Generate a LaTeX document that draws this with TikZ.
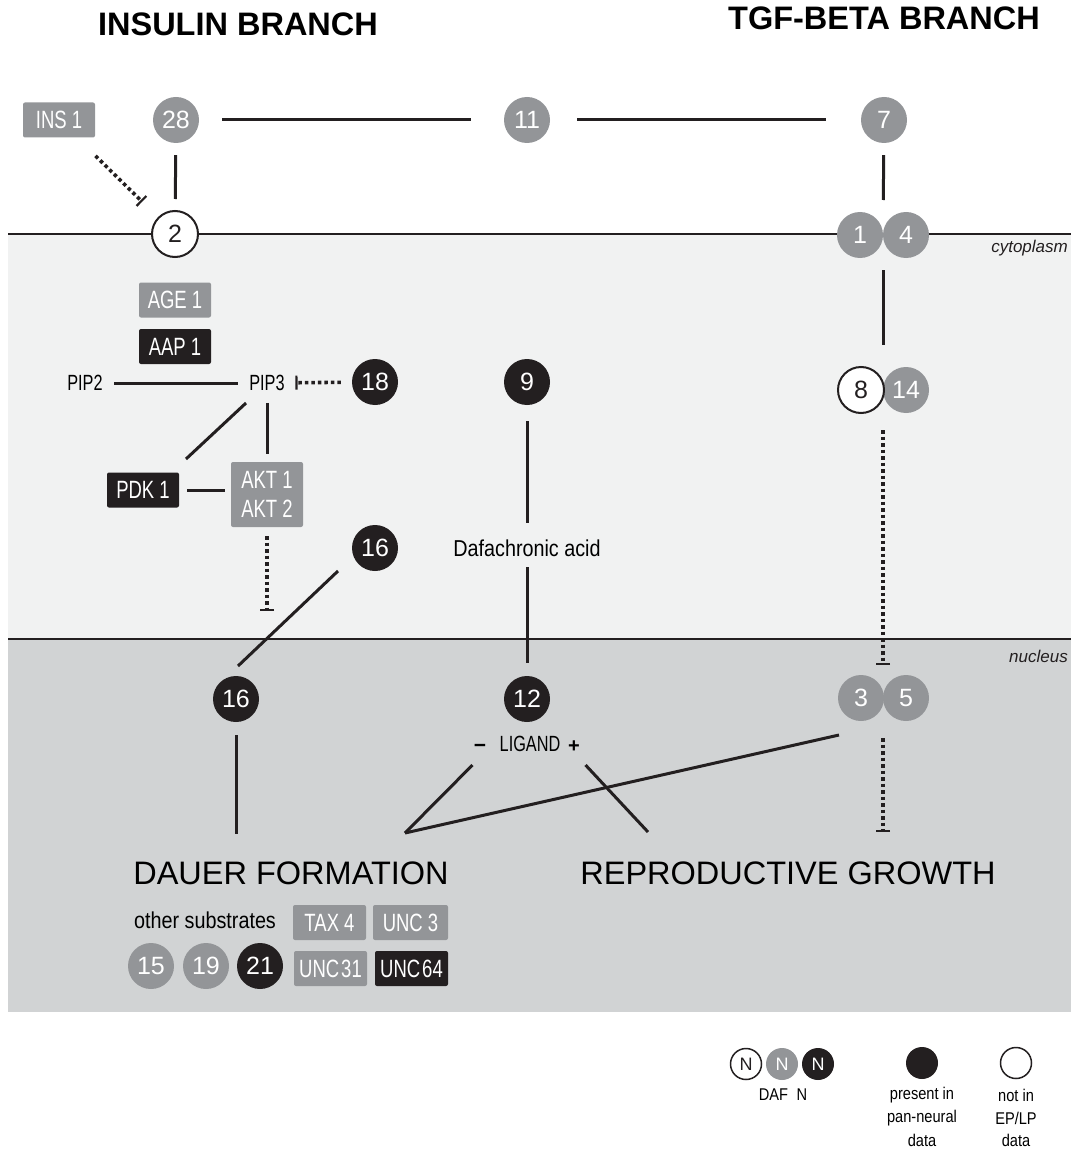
\documentclass[tikz,border=0pt]{standalone}
\usepackage{fontspec}
\setmainfont{Liberation Sans}
\newfontfamily\cnd[FakeStretch=0.74]{Liberation Sans}
\newfontfamily\cndl[FakeStretch=0.86]{Liberation Sans}
\usetikzlibrary{arrows.meta,calc}
\definecolor{dgray}{HTML}{939598}
\definecolor{dblack}{HTML}{231F20}
\definecolor{cyto}{HTML}{F1F2F2}
\definecolor{nucl}{HTML}{D1D3D4}
\begin{document}
\begin{tikzpicture}[x=1pt,y=-1pt,
  num/.style={circle,minimum size=46pt,inner sep=0pt,font=\fontsize{25}{25}\selectfont},
  gnum/.style={num,fill=dgray,text=white},
  bnum/.style={num,fill=dblack,text=white},
  wnum/.style={num,fill=white,draw=dblack,line width=2pt,text=dblack},
  gbox/.style={rectangle,rounded corners=2pt,fill=dgray,text=white,minimum width=72pt,minimum height=35pt,inner sep=0pt,font=\cnd\fontsize{25}{29}\selectfont},
  bbox/.style={gbox,fill=dblack},
  capl/.style={inner sep=0pt,font=\cnd\fontsize{22}{26}\selectfont,text=black},
  lowl/.style={inner sep=0pt,font=\cndl\fontsize{23}{26}\selectfont,text=black},
  lgd/.style={inner sep=0pt,font=\cndl\fontsize{17}{20}\selectfont,text=black},
  big/.style={inner sep=0pt,font=\fontsize{32.5}{34}\selectfont,text=black},
  conn/.style={line width=3pt,draw=dblack},
  dotc/.style={line width=3.6pt,draw=dblack,dash pattern=on 3.5pt off 3pt},
  inh/.style={dotc,-{Bar[width=14pt,line width=2.2pt]}},
]
\useasboundingbox (0,0) rectangle (1071,1150);
% compartments
\fill[cyto] (8,234) rectangle (1071,639);
\fill[nucl] (8,639) rectangle (1071,1012);
\draw[line width=2.2pt,dblack] (8,234) -- (1071,234);
\draw[line width=2.2pt,dblack] (8,639) -- (1071,639);
\node[anchor=east,inner sep=0pt,font=\itshape\fontsize{17}{17}\selectfont,text=dblack] (lcyto) at (1068,248) {cytoplasm};
\node[anchor=east,inner sep=0pt,font=\itshape\fontsize{17}{17}\selectfont,text=dblack] (lnuc) at (1068,656) {nucleus};
% titles
\node[big,font=\bfseries\fontsize{32.5}{34}\selectfont] (tins) at (238,24) {INSULIN BRANCH};
\node[big,font=\bfseries\fontsize{32.5}{34}\selectfont] (ttgf) at (884,18) {TGF-BETA BRANCH};
% top row
\node[gbox] (ins1) at (59,120) {INS 1};
\node[gnum] (n28) at (176,120) {28};
\node[gnum] (n11) at (527,120) {11};
\node[gnum] (n7) at (884,120) {7};
\node[wnum] (n2) at (175,234) {2};
\node[gnum] (n1) at (860,235) {1};
\node[gnum] (n4) at (906,235) {4};
\coordinate (c14) at (883,235);
% insulin cytoplasm
\node[gbox] (age1) at (175,300) {AGE 1};
\node[bbox] (aap1) at (175,346.5) {AAP 1};
\node[capl] (pip2) at (85,383) {PIP2};
\node[capl] (pip3) at (267,383) {PIP3};
\node[bnum] (n18) at (375,382) {18};
\node[bbox] (pdk1) at (143,490) {PDK 1};
\node[gbox,minimum height=65pt,align=center] (akt) at (267,494.5) {AKT 1\\AKT 2};
\coordinate (aktend) at (267,611);
\node[bnum] (n16a) at (375,548) {16};
% middle
\node[bnum] (n9) at (527,382) {9};
\node[lowl] (dafa) at (527,548) {Dafachronic acid};
% tgf cytoplasm
\node[gnum] (n14) at (906,390) {14};
\node[wnum] (n8) at (861,390) {8};
\coordinate (c814) at (883,390);
% nucleus
\node[bnum] (n16b) at (236,699) {16};
\node[bnum] (n12) at (527,699) {12};
\node[gnum] (n3) at (861,698) {3};
\node[gnum] (n5) at (906,698) {5};
\coordinate (c35) at (883,698);
\coordinate (rend) at (883,832);
\node[capl] (ligand) at (530,744) {LIGAND};
\node[anchor=base,inner sep=0pt,font=\bfseries\fontsize{21}{24}\selectfont] (minus) at (480,752) {\char"2212};
\node[anchor=base,inner sep=0pt,font=\bfseries\fontsize{20}{24}\selectfont] (plus) at (574,752) {+};
\coordinate (dj) at (405,833);
\coordinate (rj) at (648,832);
\coordinate (din) at (236,834);
\node[big] (dauer) at (291,873) {DAUER FORMATION};
\node[big] (repro) at (788,873) {REPRODUCTIVE GROWTH};
\node[lowl] (other) at (205,920) {other substrates};
\node[gbox,minimum width=73pt] (tax4) at (329.5,922.5) {TAX 4};
\node[gbox,minimum width=75pt] (unc3) at (410.5,922.5) {UNC 3};
\node[gbox,minimum width=73pt] (unc31) at (330.5,968.5) {UNC\kern2pt 31};
\node[bbox,minimum width=73pt] (unc64) at (411.5,968.5) {UNC\kern2pt 64};
\node[gnum] (n15) at (151,966) {15};
\node[gnum] (n19) at (206,966) {19};
\node[bnum] (n21) at (260,966) {21};
% connectors
\draw[conn,shorten <=23pt,shorten >=33pt] (n28) -- (n11);
\draw[conn,shorten <=27pt,shorten >=35pt] (n11) -- (n7);
\draw[conn,shorten <=12pt,shorten >=11pt] (n28) -- (n2);
\draw[inh,shorten <=26pt,shorten >=22pt] (ins1) -- (n2);
\draw[conn,shorten <=12pt,shorten >=35pt] (n7) -- (c14);
\draw[conn,shorten <=35pt,shorten >=45pt] (c14) -- (c814);
\draw[inh,shorten <=40pt,shorten >=33pt] (c814) -- (c35);
\draw[inh,shorten <=40pt] (c35) -- (rend);
\draw[conn,shorten <=11.5pt,shorten >=11.5pt] (pip2) -- (pip3);
\draw[inh,shorten <=11pt,shorten >=10.5pt] (n18) -- (pip3);
\draw[conn] ($(pip3)+(-21,20)$) -- ($(pdk1)+(43,-31)$);
\draw[conn,shorten <=12pt,shorten >=8pt] (pip3) -- (akt);
\draw[conn] ($(pdk1.east)+(8,0)$) -- ($(akt.west |- pdk1.east)+(-6,0)$);
\draw[inh,shorten <=9pt] (akt) -- (aktend);
\draw[conn] ($(n16a)+(-37,23)$) -- ($(n16b)+(2,-33)$);
\draw[conn,shorten <=16pt,shorten >=16.5pt] (n9) -- (dafa);
\draw[conn,shorten <=10.5pt,shorten >=13pt] (dafa) -- (n12);
\draw[conn,shorten <=13pt] (n16b) -- (din);
\draw[conn] ($(ligand.west)+(-27,21)$) -- (dj);
\draw[conn] ($(ligand.east)+(25,21)$) -- (rj);
\draw[conn] ($(n3)+(-22,37)$) -- (dj);
% legend
\node[wnum,minimum size=31pt,line width=1.5pt,font=\fontsize{18}{18}\selectfont] (lw) at (746,1064) {N};
\node[gnum,minimum size=32pt,font=\fontsize{18}{18}\selectfont] (lg) at (782,1064) {N};
\node[bnum,minimum size=32pt,font=\fontsize{18}{18}\selectfont] (lb) at (818,1064) {N};
\node[lgd] (ldaf) at (783,1095) {DAF\enspace N};
\node[bnum,minimum size=32pt] (lpres) at (922,1063) {};
\node[wnum,minimum size=31pt,line width=1.5pt] (lnot) at (1016,1063) {};
\node[lgd] (lp1) at (922,1095) {present in};
\node[lgd] (lp2) at (922,1118) {pan-neural};
\node[lgd] (lp3) at (922,1140) {data};
\node[lgd] (ln1) at (1016,1095) {not in};
\node[lgd] (ln2) at (1016,1118) {EP/LP};
\node[lgd] (ln3) at (1016,1140) {data};
\end{tikzpicture}
\end{document}
